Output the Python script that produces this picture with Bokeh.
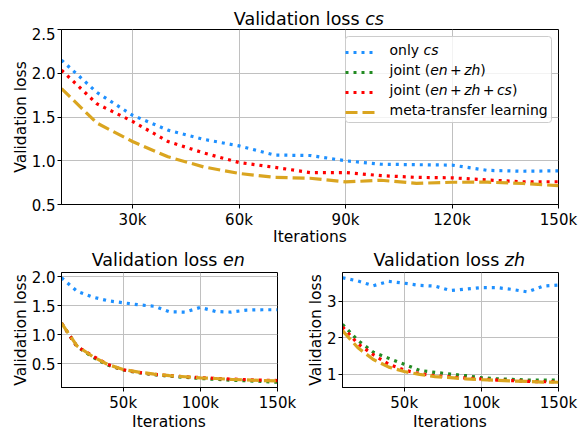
from bokeh.plotting import figure
from bokeh.models import Range1d, FixedTicker, Legend, LegendItem, Label, BoxAnnotation, Div
from bokeh.layouts import column, row
from bokeh.embed import file_html
from bokeh.resources import INLINE

nan = float("nan")

# ---------------- data ----------------
iterations = [10000, 20000, 30000, 40000, 50000, 60000, 70000, 80000,
              90000, 100000, 110000, 120000, 130000, 140000, 150000]

cs_only = [2.15, 1.78, 1.52, 1.35, 1.245, 1.17, 1.065, 1.06, 1.00, 0.96, 0.955, 0.95, 0.89, 0.88, 0.885]
# joint (en+zh) on cs lies above the visible range -> not drawn (missing values)
cs_joint_en_zh = [nan, nan, nan, nan, nan, nan, nan, nan, nan, nan, nan, nan, nan, nan, nan]
cs_joint_all = [2.035, 1.65, 1.45, 1.22, 1.09, 0.98, 0.925, 0.865, 0.865, 0.83, 0.81, 0.805, 0.78, 0.76, 0.76]
cs_meta = [1.825, 1.43, 1.22, 1.045, 0.93, 0.855, 0.81, 0.80, 0.758, 0.777, 0.742, 0.754, 0.755, 0.74, 0.715]

en_only = [1.98, 1.75, 1.65, 1.585, 1.55, 1.515, 1.49, 1.395, 1.39, 1.47, 1.40, 1.39, 1.425, 1.43, 1.43]
en_joint_en_zh = [1.2, 0.8, 0.62, 0.48, 0.395, 0.35, 0.315, 0.29, 0.27, 0.25, 0.235, 0.22, 0.21, 0.2, 0.185]
en_joint_all = [1.2, 0.8, 0.64, 0.49, 0.40, 0.355, 0.32, 0.30, 0.28, 0.265, 0.25, 0.24, 0.23, 0.22, 0.215]
en_meta = [1.2, 0.81, 0.63, 0.49, 0.405, 0.36, 0.325, 0.30, 0.28, 0.26, 0.25, 0.235, 0.225, 0.215, 0.21]

zh_only = [3.65, 3.56, 3.43, 3.55, 3.50, 3.44, 3.42, 3.30, 3.34, 3.38, 3.38, 3.33, 3.26, 3.42, 3.45]
zh_joint_en_zh = [2.37, 1.93, 1.61, 1.44, 1.28, 1.11, 1.055, 1.01, 0.965, 0.91, 0.88, 0.865, 0.845, 0.845, 0.845]
zh_joint_all = [2.30, 1.84, 1.54, 1.28, 1.12, 1.02, 0.965, 0.93, 0.90, 0.875, 0.845, 0.83, 0.81, 0.80, 0.80]
zh_meta = [2.20, 1.73, 1.41, 1.20, 1.08, 1.0, 0.94, 0.91, 0.88, 0.855, 0.84, 0.82, 0.81, 0.79, 0.785]

top_x_ticks = [30000, 60000, 90000, 120000, 150000]
top_x_labels = ["30k", "60k", "90k", "120k", "150k"]
bot_x_ticks = [50000, 100000, 150000]
bot_x_labels = ["50k", "100k", "150k"]
cs_y_ticks = [0.5, 1.0, 1.5, 2.0, 2.5]
cs_y_labels = ["0.5", "1.0", "1.5", "2.0", "2.5"]
en_y_ticks = [0.5, 1.0, 1.5, 2.0]
en_y_labels = ["0.5", "1.0", "1.5", "2.0"]
zh_y_ticks = [1, 2, 3]
zh_y_labels = ["1", "2", "3"]

x_title = "Iterations"
y_title = "Validation loss"

# titles / legend labels as (text, italic) runs
title_cs = [("Validation loss ", False), ("cs", True)]
title_en = [("Validation loss ", False), ("en", True)]
title_zh = [("Validation loss ", False), ("zh", True)]
legend_runs = [
    [("only ", False), ("cs", True)],
    [("joint (", False), ("en", True), ("+", False), ("zh", True), (")", False)],
    [("joint (", False), ("en", True), ("+", False), ("zh", True), ("+", False), ("cs", True), (")", False)],
    [("meta-transfer learning", False)],
]

# ---------------- styling ----------------
FONT = "DejaVu Sans"
C_ONLY, C_JEZ, C_JALL, C_META = "#1E90FF", "#228B22", "#FF0000", "#DAA520"
LW = 3.2
DOT = "3 5"
DASH = "12 5"
TICK_PX = "15px"
AX_SIZE = 15.5
T_SIZE = 17.5
LEG_SIZE = 14

W = {' ': .318, '(': .390, ')': .390, '+': .838, '-': .361, 'V': .684, 'I': .295,
     'a': .613, 'c': .550, 'd': .635, 'e': .615, 'f': .352, 'g': .635, 'h': .634,
     'i': .278, 'j': .278, 'l': .278, 'm': .974, 'n': .634, 'o': .612, 'r': .411,
     's': .521, 't': .392, 'y': .592, 'z': .525}


def tw(s, size):
    return sum(W.get(ch, 0.6) for ch in s) * size


def run_width(runs, size, pad=0.0):
    total = 0.0
    for t, it in runs:
        total += tw(t, size)
        if t == "+":
            total += 2 * pad
    return total


def add_runs(p, runs, x0, y, size, baseline, pad=0.0):
    x = x0
    for t, it in runs:
        if t == "+":
            x += pad
        p.add_layout(Label(x=x, y=y, x_units="screen", y_units="screen", text=t,
                           text_font=FONT, text_font_size=f"{size}px",
                           text_font_style="italic" if it else "normal",
                           text_color="black", text_align="left",
                           text_baseline=baseline, level="overlay"))
        x += tw(t, size)
        if t == "+":
            x += pad


def runs_html(runs):
    return "".join(f"<i>{t}</i>" if it else t for t, it in runs)


def text_div(width, height, items):
    # items: list of (runs, size, center_x, baseline_y) in the div's own pixels
    parts = []
    for runs, size, cx, by in items:
        x0 = cx - run_width(runs, size) / 2
        top = by - 0.846 * size
        parts.append(
            f'<div style="position:absolute; left:{x0:.1f}px; top:{top:.1f}px; margin:0; padding:0; '
            f'font-family:\'{FONT}\'; font-size:{size}px; line-height:1; white-space:pre; '
            f'color:black;">{runs_html(runs)}</div>')
    return Div(text="".join(parts), width=width, height=height,
               styles={"position": "relative", "overflow": "visible", "margin": "0", "padding": "0"})


def make_fig(width, height, bl, br, bt, bb, yr, xt, xl, yt, yl, xlabel):
    p = figure(width=width, height=height, x_range=Range1d(10000, 150000),
               y_range=Range1d(*yr), toolbar_location=None, output_backend="svg",
               min_border_left=bl, min_border_right=br, min_border_top=bt,
               min_border_bottom=bb, background_fill_color="white",
               border_fill_color="white", frame_align=False)
    p.outline_line_color = "black"
    p.outline_line_width = 1
    p.xaxis.ticker = FixedTicker(ticks=xt)
    p.xaxis.major_label_overrides = dict(zip(xt, xl))
    p.yaxis.ticker = FixedTicker(ticks=yt)
    p.yaxis.major_label_overrides = dict(zip(yt, yl))
    for ax in (p.xaxis[0], p.yaxis[0]):
        ax.axis_line_color = "black"
        ax.major_tick_line_color = "black"
        ax.major_tick_out = 4
        ax.major_tick_in = 0
        ax.minor_tick_line_color = None
        ax.major_label_text_font = FONT
        ax.major_label_text_font_size = TICK_PX
        ax.major_label_text_color = "black"
        ax.axis_label_text_font = FONT
        ax.axis_label_text_font_size = f"{AX_SIZE}px"
        ax.axis_label_text_font_style = "normal"
        ax.axis_label_text_color = "black"
    p.xaxis.major_label_standoff = 2
    p.xaxis.axis_label_standoff = -4
    p.yaxis.major_label_standoff = 2
    p.yaxis.axis_label_standoff = -1
    if xlabel:
        p.xaxis.axis_label = x_title
    p.yaxis.axis_label = y_title
    p.grid.grid_line_color = "#c0c0c0"
    p.grid.grid_line_width = 1
    return p


def padded(*series):
    vals = [v for s in series for v in s]
    lo, hi = min(vals), max(vals)
    m = (hi - lo) * 0.05
    return (lo - m, hi + m)


def add_lines(p, only, jez, jall, meta):
    r1 = p.line(iterations, only, line_color=C_ONLY, line_width=LW, line_dash=DOT)
    r2 = p.line(iterations, jez, line_color=C_JEZ, line_width=LW, line_dash=DOT)
    r3 = p.line(iterations, jall, line_color=C_JALL, line_width=LW, line_dash=DOT)
    r4 = p.line(iterations, meta, line_color=C_META, line_width=LW, line_dash=DASH)
    return [r1, r2, r3, r4]


# ---------------- layout constants ----------------
TOP_L, TOP_FW, TOP_FH = 61, 497, 175
TOP_BB = 46
S1_H = 27
TOP_H = 2 + TOP_FH + TOP_BB          # 223
S2_H = 20
BL_L, BR_L, B_FW, B_FH = 61, 342, 216, 115
B_BB = 28
BOT_H = 2 + B_FH + B_BB               # 145
S3_H = 430 - S1_H - TOP_H - S2_H - BOT_H
BL_W = 300

# ---------------- top title ----------------
s1 = text_div(579, S1_H, [(title_cs, T_SIZE, TOP_L + TOP_FW / 2, 25.5)])

# ---------------- top plot ----------------
top = make_fig(579, TOP_H, TOP_L, 579 - TOP_L - TOP_FW, 2, TOP_BB, (0.5, 2.5),
               top_x_ticks, top_x_labels, cs_y_ticks, cs_y_labels, True)
rends = add_lines(top, cs_only, cs_joint_en_zh, cs_joint_all, cs_meta)

LEG_W, LEG_H = 206, 86
lx = TOP_FW - 7 - LEG_W
ltop = TOP_FH - 7
top.add_layout(BoxAnnotation(left=lx, right=lx + LEG_W, top=ltop, bottom=ltop - LEG_H,
                             left_units="screen", right_units="screen",
                             top_units="screen", bottom_units="screen",
                             fill_color="white", fill_alpha=0.8,
                             line_color="#cccccc", line_width=1, line_alpha=1,
                             border_radius=3, level="annotation"))
legend = Legend(items=[LegendItem(label="", renderers=[r]) for r in rends],
                location=(lx, ltop - LEG_H), padding=3, spacing=0, margin=0,
                glyph_width=30, glyph_height=20, label_height=20,
                label_width=LEG_W - 44 - 3, label_standoff=11,
                label_text_font=FONT, label_text_font_size=f"{LEG_SIZE}px",
                border_line_color=None, background_fill_alpha=0)
top.add_layout(legend)
for i, runs in enumerate(legend_runs):
    add_runs(top, runs, lx + 44, ltop - 3 - 10 - 20 * i, LEG_SIZE, "middle", pad=2.4)

# ---------------- bottom titles ----------------
s2 = text_div(579, S2_H, [(title_en, T_SIZE, BL_L + B_FW / 2, 16.5),
                          (title_zh, T_SIZE, BR_L + B_FW / 2, 16.5)])

# ---------------- bottom plots ----------------
bl = make_fig(BL_W, BOT_H, BL_L, BL_W - BL_L - B_FW, 2, B_BB,
              padded(en_only, en_joint_en_zh, en_joint_all, en_meta),
              bot_x_ticks, bot_x_labels, en_y_ticks, en_y_labels, False)
add_lines(bl, en_only, en_joint_en_zh, en_joint_all, en_meta)

br = make_fig(579 - BL_W, BOT_H, BR_L - BL_W, 579 - BR_L - B_FW, 2, B_BB,
              padded(zh_only, zh_joint_en_zh, zh_joint_all, zh_meta),
              bot_x_ticks, bot_x_labels, zh_y_ticks, zh_y_labels, False)
add_lines(br, zh_only, zh_joint_en_zh, zh_joint_all, zh_meta)

# ---------------- bottom x-axis titles ----------------
xt_runs = [(x_title, False)]
s3 = text_div(579, S3_H, [(xt_runs, AX_SIZE, BL_L + B_FW / 2, S3_H - 1.5),
                          (xt_runs, AX_SIZE, BR_L + B_FW / 2, S3_H - 1.5)])

layout = column(s1, top, s2, row(bl, br), s3)
open("out.html", "w").write(file_html(layout, INLINE))
